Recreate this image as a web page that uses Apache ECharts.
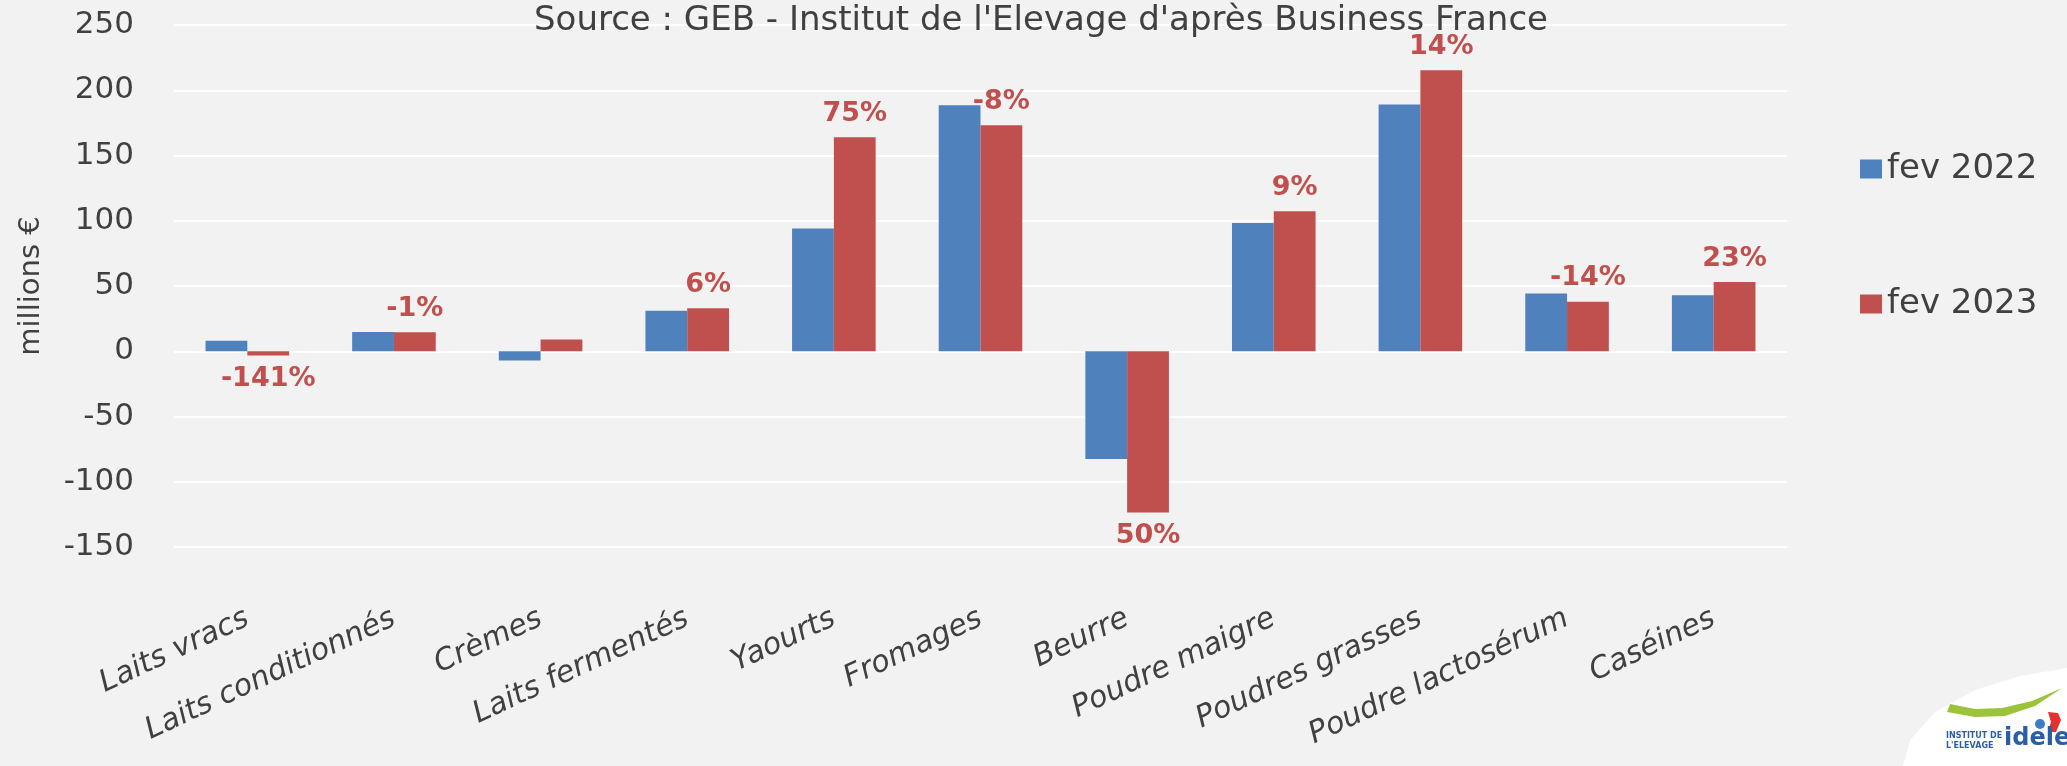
<!DOCTYPE html>
<html>
<head>
<meta charset="utf-8">
<script src="https://cdn.jsdelivr.net/npm/echarts@6/dist/echarts.min.js"></script>
<style>
  html, body { margin: 0; padding: 0; background: #f2f2f2; }
  #chart { width: 2067px; height: 766px; }
</style>
</head>
<body>
<div id="chart"></div>
<script>
// données (millions €)
const categories = ['Laits vracs', 'Laits conditionnés', 'Crèmes', 'Laits fermentés', 'Yaourts',
  'Fromages', 'Beurre', 'Poudre maigre', 'Poudres grasses', 'Poudre lactosérum', 'Caséines'];
const fev2022 = [8, 14.8, -7, 31, 94, 188.5, -82.5, 98.3, 189, 44.2, 42.9];
const fev2023 = [-3.3, 14.6, 9, 33, 164, 173.2, -123.5, 107.3, 215.3, 37.9, 53];
// variation affichée au-dessus des barres 2023 (null = pas d'étiquette)
const variation = [-141, -1, null, 6, 75, -8, 50, 9, 14, -14, 23];
const yTicks = { min: -150, max: 250, interval: 50 };

const font = 'DejaVu Sans';
const textColor = '#404040';
const blue = '#4f81bd';
const red = '#c0504d';

const chart = echarts.init(document.getElementById('chart'));

const redData = fev2023.map((v, i) => ({
  value: v,
  label: {
    show: variation[i] !== null,
    position: v < 0 ? 'bottom' : 'top',
    formatter: () => variation[i] + '%'
  }
}));

const option = {
  backgroundColor: '#f2f2f2',
  animation: false,
  title: {
    text: "Source : GEB - Institut de l'Elevage d'après Business France",
    left: 1036,
    textAlign: 'center',
    top: -1,
    textStyle: { color: textColor, fontFamily: font, fontSize: 34, fontWeight: 'normal' }
  },
  legend: {
    orient: 'vertical',
    left: 1855,
    top: 147,
    itemWidth: 22,
    itemHeight: 19,
    itemGap: 101,
    icon: 'rect',
    textStyle: { color: textColor, fontFamily: font, fontSize: 34 },
    data: ['fev 2022', 'fev 2023']
  },
  grid: { left: 174, right: 280, top: 25, bottom: 219 },
  xAxis: {
    type: 'category',
    data: categories,
    axisLine: { show: false, onZero: false },
    axisTick: { show: false },
    axisLabel: {
      interval: 0,
      rotate: 25,
      margin: 70,
      color: textColor,
      fontFamily: font,
      fontStyle: 'italic',
      fontSize: 30
    }
  },
  yAxis: {
    type: 'value',
    min: yTicks.min,
    max: yTicks.max,
    interval: yTicks.interval,
    name: 'millions €',
    nameLocation: 'middle',
    nameGap: 128,
    nameTextStyle: { color: textColor, fontFamily: font, fontSize: 29 },
    axisLine: { show: false },
    axisTick: { show: false },
    axisLabel: { color: textColor, fontFamily: font, fontSize: 31, margin: 40 },
    splitLine: { lineStyle: { color: '#ffffff', width: 2 } }
  },
  series: [
    {
      name: 'fev 2022',
      type: 'bar',
      data: fev2022,
      itemStyle: { color: blue },
      barGap: '0%',
      barCategoryGap: '43%'
    },
    {
      name: 'fev 2023',
      type: 'bar',
      data: redData,
      itemStyle: { color: red },
      label: {
        color: red,
        fontFamily: font,
        fontWeight: 'bold',
        fontSize: 27,
        distance: 10
      }
    }
  ],
  // logo idele en bas à droite
  graphic: [
    {
      type: 'polygon',
      shape: { points: [[1903, 766], [1910, 740], [1935, 712], [1975, 690], [2020, 676], [2067, 668], [2067, 766]] },
      style: { fill: '#ffffff' }
    },
    {
      type: 'polygon',
      shape: { points: [[1947, 712], [1975, 717], [2005, 716], [2035, 706], [2062, 688], [2032, 701], [2002, 708], [1975, 709], [1950, 704]] },
      style: { fill: '#9cc43a' }
    },
    {
      type: 'polygon',
      shape: { points: [[2048, 712], [2058, 713], [2061, 720], [2056, 732], [2048, 732], [2051, 722]] },
      style: { fill: '#e2312f' }
    },
    {
      type: 'circle',
      shape: { cx: 2040, cy: 724, r: 5 },
      style: { fill: '#3b7cc4' }
    },
    {
      type: 'text',
      left: 1946, top: 731,
      style: { text: 'INSTITUT DE\nL\'ELEVAGE', fill: '#2a5fa8', font: 'bold 8px "DejaVu Sans"', lineHeight: 10 }
    },
    {
      type: 'text',
      left: 2004, top: 727,
      style: { text: 'idele', fill: '#2a5fa8', font: 'bold 24px "DejaVu Sans"' }
    }
  ]
};

chart.setOption(option);
</script>
</body>
</html>
